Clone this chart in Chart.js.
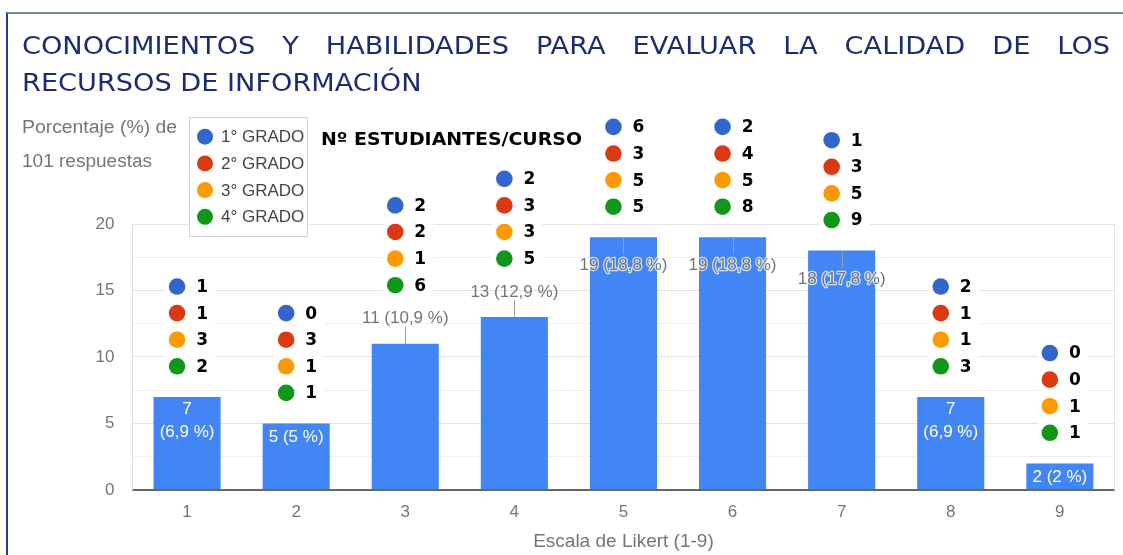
<!DOCTYPE html>
<html lang="es">
<head>
<meta charset="utf-8">
<title>Conocimientos y habilidades para evaluar la calidad de los recursos de información</title>
<script src="https://cdn.jsdelivr.net/npm/chart.js@4.4.1/dist/chart.umd.min.js"></script>
<style>
  html, body { margin: 0; padding: 0; background: #fff; }
  body { width: 1123px; height: 555px; position: relative; overflow: hidden; }
  #grafico { position: absolute; left: 0; top: 0; }
  #marco {
    position: absolute; left: 6px; top: 12px; right: -4px; bottom: -4px;
    border-top: 2px solid #6f87b3; border-left: 2px solid #23408f;
    pointer-events: none;
  }
  #titulo {
    position: absolute; left: 22px; top: 27px; width: 1001px;
    transform: scaleX(1.087); transform-origin: 0 0;
    font-family: "DejaVu Sans", Verdana, sans-serif; font-size: 25px; line-height: 37px;
    color: #1c2c6e;
  }
  #titulo .l1 { text-align: justify; text-align-last: justify; }
</style>
</head>
<body>
<canvas id="grafico" width="1123" height="555"></canvas>
<div id="titulo">
  <div class="l1">CONOCIMIENTOS Y HABILIDADES PARA EVALUAR LA CALIDAD DE LOS</div>
  <div>RECURSOS DE INFORMACIÓN</div>
</div>
<div id="marco"></div>
<script>
  // Datos (101 respuestas)
  const categorias = ["1", "2", "3", "4", "5", "6", "7", "8", "9"];
  const respuestas = [7, 5, 11, 13, 19, 19, 18, 7, 2];
  const grados = ["1° GRADO", "2° GRADO", "3° GRADO", "4° GRADO"];
  const grado1 = [1, 0, 2, 2, 6, 2, 1, 2, 0];
  const grado2 = [1, 3, 2, 3, 3, 4, 3, 1, 0];
  const grado3 = [3, 1, 1, 3, 5, 5, 5, 1, 1];
  const grado4 = [2, 1, 6, 5, 5, 8, 9, 3, 1];
  const yTicks = [0, 5, 10, 15, 20];

  const porGrado = [grado1, grado2, grado3, grado4];
  const coloresGrado = ["#3366cc", "#dc3912", "#ff9900", "#109618"];
  const total = respuestas.reduce((a, b) => a + b, 0);
  const yTope = yTicks[yTicks.length - 1];

  const SANS = "'Liberation Sans', Arial, sans-serif";
  const GRIS = "#757575";

  function fmtPct(n) {
    const s = (Math.round(n * 10) / 10).toFixed(1);
    return s.endsWith(".0") ? s.slice(0, -2) : s.replace(".", ",");
  }

  // dónde pone la etiqueta de valor (como lo hace Google Forms)
  function modoEtiqueta(v) {
    if (v >= 18) return "dentroArriba";
    if (v >= 10) return "fuera";
    return "dentro";
  }

  function textoAncho(ctx, text, x, y, ancho) {
    const w = ctx.measureText(text).width;
    ctx.save();
    ctx.translate(x, y);
    ctx.scale(ancho / w, 1);
    ctx.fillText(text, 0, 0);
    ctx.restore();
  }

  function colorGrid(v) {
    if (v <= 0 || v > yTope + 0.01) return "rgba(0,0,0,0)";
    return v % 5 === 0 ? "#e3e3e3" : "#f0f0f0";
  }

  const anotaciones = {
    id: "anotaciones",
    afterDatasetsDraw(chart) {
      const { ctx, chartArea, scales } = chart;
      const y = scales.y;
      const meta = chart.getDatasetMeta(0);

      ctx.save();
      // bordes laterales del área
      ctx.strokeStyle = "#e3e3e3";
      ctx.lineWidth = 1;
      ctx.beginPath();
      ctx.moveTo(Math.round(chartArea.left) - 0.5, y.getPixelForValue(0));
      ctx.lineTo(Math.round(chartArea.left) - 0.5, y.getPixelForValue(yTope));
      ctx.moveTo(Math.round(chartArea.right) + 0.5, y.getPixelForValue(0));
      ctx.lineTo(Math.round(chartArea.right) + 0.5, y.getPixelForValue(yTope));
      ctx.stroke();

      // línea base
      ctx.strokeStyle = "#666666";
      ctx.lineWidth = 2;
      ctx.beginPath();
      ctx.moveTo(chartArea.left, y.getPixelForValue(0));
      ctx.lineTo(chartArea.right, y.getPixelForValue(0));
      ctx.stroke();

      ctx.font = "17px " + SANS;
      ctx.textAlign = "center";
      ctx.textBaseline = "middle";

      respuestas.forEach((v, i) => {
        const bar = meta.data[i];
        const bx = bar.x;
        const top = bar.y;
        const pct = fmtPct((v / total) * 100);
        const texto = `${v} (${pct} %)`;
        const modo = modoEtiqueta(v);

        if (modo === "dentro") {
          ctx.fillStyle = "#ffffff";
          if (ctx.measureText(texto).width > bar.width - 4) {
            ctx.fillText(String(v), bx, top + 12.5);
            ctx.fillText(`(${pct} %)`, bx, top + 35);
          } else {
            ctx.fillText(texto, bx, top + 14);
          }
        } else {
          const dir = modo === "fuera" ? -1 : 1;
          ctx.strokeStyle = "#9e9e9e";
          ctx.lineWidth = 1;
          ctx.beginPath();
          ctx.moveTo(Math.round(bx) + 0.5, top);
          ctx.lineTo(Math.round(bx) + 0.5, top + dir * 17);
          ctx.stroke();
          const ty = modo === "fuera" ? top - 25 : top + 28.5;
          if (modo === "dentroArriba") {
            ctx.strokeStyle = "rgba(255,255,255,0.75)";
            ctx.lineWidth = 2.5;
            ctx.lineJoin = "round";
            ctx.strokeText(texto, bx, ty);
          }
          ctx.fillStyle = GRIS;
          ctx.fillText(texto, bx, ty);
        }

        // columna de puntos: alumnos por curso
        const base = v + (modo === "fuera" ? 4.4 : 2.3);
        const dx = bx - 10;
        const pys = porGrado.map((_, k) => y.getPixelForValue(base + 2 * (porGrado.length - 1 - k)));
        ctx.fillStyle = "#ffffff";
        ctx.fillRect(dx - 12, pys[0] - 12, 50, pys[pys.length - 1] - pys[0] + 24);
        porGrado.forEach((serie, k) => {
          ctx.fillStyle = coloresGrado[k];
          ctx.beginPath();
          ctx.arc(dx, pys[k], 8.3, 0, Math.PI * 2);
          ctx.fill();
          ctx.fillStyle = "#000000";
          ctx.font = "bold 17px 'DejaVu Sans', Verdana, sans-serif";
          ctx.fillText(String(serie[i]), dx + 25, pys[k] + 1);
          ctx.font = "17px " + SANS;
        });
      });
      ctx.restore();
    },
    afterDraw(chart) {
      const { ctx } = chart;
      ctx.save();
      // título del eje vertical
      ctx.fillStyle = GRIS;
      ctx.font = "18px " + SANS;
      ctx.textAlign = "left";
      ctx.textBaseline = "alphabetic";
      textoAncho(ctx, "Porcentaje (%) de", 22, 133, 155);
      textoAncho(ctx, "101 respuestas", 22, 167, 130);

      // leyenda
      ctx.fillStyle = "#ffffff";
      ctx.fillRect(189.5, 117.5, 118, 119);
      ctx.strokeStyle = "#d4d4d4";
      ctx.lineWidth = 1;
      ctx.strokeRect(189.5, 117.5, 118, 119);
      ctx.textBaseline = "middle";
      ctx.font = "17px " + SANS;
      grados.forEach((g, k) => {
        const ly = 136.7 + k * 26.7;
        ctx.fillStyle = coloresGrado[k];
        ctx.beginPath();
        ctx.arc(205, ly, 8, 0, Math.PI * 2);
        ctx.fill();
        ctx.fillStyle = "#444444";
        ctx.fillText(g, 221, ly + 1);
      });

      ctx.fillStyle = "#000000";
      ctx.textBaseline = "alphabetic";
      ctx.font = "bold 17px 'DejaVu Sans', Verdana, sans-serif";
      textoAncho(ctx, "Nº ESTUDIANTES/CURSO", 321, 145, 261);
      ctx.restore();
    },
  };

  new Chart(document.getElementById("grafico"), {
    type: "bar",
    data: {
      labels: categorias,
      datasets: [
        {
          label: "Respuestas",
          data: respuestas,
          backgroundColor: "#4285f4",
          borderWidth: 0,
          barPercentage: 0.615,
          categoryPercentage: 1,
        },
      ],
    },
    options: {
      responsive: false,
      devicePixelRatio: 1,
      animation: false,
      layout: { padding: { left: 0, top: 117.6, right: 8.6, bottom: 0 } },
      plugins: {
        legend: { display: false },
        tooltip: { enabled: false },
      },
      scales: {
        x: {
          afterFit: (s) => { s.height = 65; },
          grid: { display: false },
          border: { display: false },
          ticks: { padding: 4, color: GRIS, font: { family: SANS, size: 17 } },
          title: {
            display: true,
            text: "Escala de Likert (1-9)",
            color: GRIS,
            font: { family: SANS, size: 19 },
            padding: { top: 0, bottom: 2 },
          },
        },
        y: {
          min: 0,
          max: 28,
          afterFit: (s) => { s.width = 132.5; },
          border: { display: false },
          grid: { drawTicks: false, color: (c) => colorGrid(c.tick.value), lineWidth: 1 },
          ticks: {
            stepSize: 2.5,
            maxTicksLimit: 20,
            autoSkip: false,
            padding: 18,
            color: GRIS,
            font: { family: SANS, size: 17 },
            callback: (v) => (yTicks.includes(v) ? String(v) : ""),
          },
        },
      },
    },
    plugins: [anotaciones],
  });
</script>
</body>
</html>
